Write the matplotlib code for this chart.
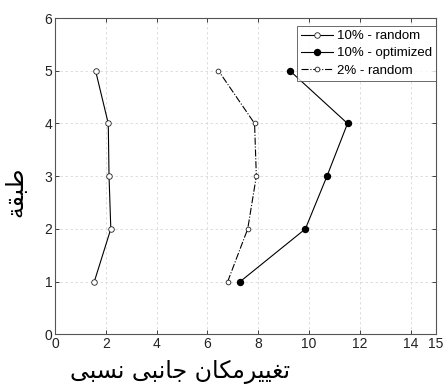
import numpy as np
import matplotlib
matplotlib.use('Agg')
import matplotlib.pyplot as plt

# طبقات و تغییرمکان نسبی
floors = [1, 2, 3, 4, 5]
drift_10_random = [1.55, 2.2, 2.13, 2.1, 1.6]
drift_10_optimized = [7.29, 9.86, 10.71, 11.52, 9.25]
drift_2_random = [6.8, 7.59, 7.93, 7.86, 6.44]
series_names = ['10% - random', '10% - optimized', '2% - random']
xlabel_text = 'تغییرمکان جانبی نسبی'
ylabel_text = 'طبقة'
xtick_vals = [0, 2, 4, 6, 8, 10, 12, 14, 15]
ytick_vals = [0, 1, 2, 3, 4, 5, 6]

# matplotlib 3.10 has no Arabic shaping: join letters by hand
FORMS = {
    # isolated, final, initial, medial
    'ت': ('\uFE95', '\uFE96', '\uFE97', '\uFE98'),
    'غ': ('\uFECD', '\uFECE', '\uFECF', '\uFED0'),
    'ی': ('\uFBFC', '\uFBFD', '\uFBFE', '\uFBFF'),
    'ر': ('\uFEAD', '\uFEAE', None, None),
    'م': ('\uFEE1', '\uFEE2', '\uFEE3', '\uFEE4'),
    'ک': ('\uFB8E', '\uFB8F', '\uFB90', '\uFB91'),
    'ا': ('\uFE8D', '\uFE8E', None, None),
    'ن': ('\uFEE5', '\uFEE6', '\uFEE7', '\uFEE8'),
    'ج': ('\uFE9D', '\uFE9E', '\uFE9F', '\uFEA0'),
    'ب': ('\uFE8F', '\uFE90', '\uFE91', '\uFE92'),
    'س': ('\uFEB1', '\uFEB2', '\uFEB3', '\uFEB4'),
    'ط': ('\uFEC1', '\uFEC2', '\uFEC3', '\uFEC4'),
    'ق': ('\uFED5', '\uFED6', '\uFED7', '\uFED8'),
    'ة': ('\uFE93', '\uFE94', None, None),
}


def shape(text):
    out = []
    for i, ch in enumerate(text):
        if ch not in FORMS:
            out.append(ch)
            continue
        prev = text[i - 1] if i > 0 else ' '
        nxt = text[i + 1] if i + 1 < len(text) else ' '
        joins_prev = prev in FORMS and FORMS[prev][2] is not None
        joins_next = nxt in FORMS and FORMS[ch][2] is not None
        iso, fin, ini, med = FORMS[ch]
        if joins_prev and joins_next:
            out.append(med)
        elif joins_prev:
            out.append(fin)
        elif joins_next:
            out.append(ini)
        else:
            out.append(iso)
    return ''.join(reversed(out))


plt.rcParams['font.family'] = ['Liberation Sans', 'DejaVu Sans']

fig = plt.figure(figsize=(4.43, 3.92), dpi=100)
ax = fig.add_axes([0.124, 0.147, 0.86, 0.807])

ax.plot(drift_10_random, floors, '-', color='black', lw=0.8, marker='o',
        ms=4, mfc='white', mec='#222222', mew=0.6, label=series_names[0])
ax.plot(drift_10_optimized, floors, '-', color='black', lw=0.8, marker='o',
        ms=4.3, mfc='black', mec='black', label=series_names[1])
ax.plot(drift_2_random, floors, '-.', color='black', lw=0.8, marker='o',
        ms=3.4, mfc='white', mec='#222222', mew=0.6, label=series_names[2])

ax.set_xlim(0, 15)
ax.set_ylim(0, 6)
ax.set_xticks(xtick_vals)
ax.set_yticks(ytick_vals)
ax.tick_params(direction='in', top=True, right=True, length=3, width=0.6,
               labelsize=10, colors='#222222', pad=2)
ax.grid(True, ls=(0, (3, 3)), color='#d8d8d8', lw=0.6)
for sp in ax.spines.values():
    sp.set_color('#555555')
    sp.set_linewidth(0.8)

ax.set_xlabel(shape(xlabel_text), fontsize=17, family=['DejaVu Sans'])
ax.xaxis.set_label_coords(0.328, -0.08)
ax.set_ylabel(shape(ylabel_text), fontsize=17, family=['DejaVu Sans'])
ax.yaxis.set_label_coords(-0.072, 0.45)

leg = ax.legend(loc='upper right', bbox_to_anchor=(1.0, 0.975), fontsize=9.5,
                frameon=True, fancybox=False, borderaxespad=0,
                handlelength=2.4, labelspacing=0.38, borderpad=0.3,
                handletextpad=0.3)
leg.get_frame().set_edgecolor('#444444')
leg.get_frame().set_linewidth(0.7)

fig.savefig('out.png', dpi=100)
